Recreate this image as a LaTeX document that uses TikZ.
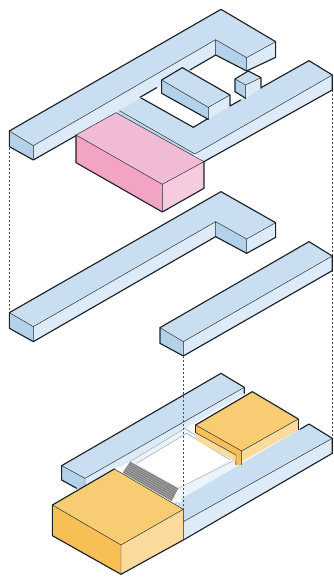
\documentclass[tikz,border=0pt]{standalone}
\usetikzlibrary{calc}
\definecolor{btop}{HTML}{C9DFF1}\definecolor{bleft}{HTML}{B3D1E9}\definecolor{bright}{HTML}{DCEBF7}
\definecolor{ptop}{HTML}{F2BBD5}\definecolor{pleft}{HTML}{F3A3C3}\definecolor{pright}{HTML}{F6CBE0}
\definecolor{gtop}{HTML}{F7CC72}\definecolor{gleft}{HTML}{F8BF57}\definecolor{gright}{HTML}{FBDB9C}
\definecolor{edge}{HTML}{1C2226}
\tikzset{
 zoomed/.style={x=0.3333pt,y=-0.3333pt},
 face/.style={draw=edge,line width=0.45pt,line join=round},
 outline/.style={draw=edge,line width=1.15pt,line join=round,line cap=round},
 guide/.style={draw=black!70,line width=0.45pt,dash pattern=on 2pt off 2pt},
 glass/.style={draw=black!40,line width=0.4pt},
}
\begin{document}
\begin{tikzpicture}[x=1pt,y=-1pt]
\useasboundingbox[fill=white] (0,0) rectangle (334,578);
% guides
\coordinate (gla) at (9.3,148);\coordinate (glb) at (9.3,313);
\coordinate (gra) at (332,90);\coordinate (grb) at (332,436);
\coordinate (gca) at (183.5,356);\coordinate (gcb) at (183.5,509);
\draw[guide] (gla)--(glb);
\draw[guide] (gra)--(grb);
%% TOP
\begin{scope}[zoomed]
 % right wing
 \fill[btop] (355,330)--(420,292)--(580,382)--(785,262)--(927,182)--(997,225)--(585,462)--cycle;
 \fill[bright] (585,462)--(997,225)--(997,270)--(612,485)--cycle;
 \fill[bleft!70!bright] (355,330)--(585,462)--(578,468)--(348,338)--cycle;
 \draw[face] (355,330)--(585,462)--(997,225);
 \draw[outline] (785,262)--(927,182)--(997,225)--(997,270)--(612,485);
 \draw[outline] (420,292)--(580,382)--(625,355);
 \draw[outline] (690,318)--(722,300);
 % far slab
 \fill[btop] (28,393)--(663,28)--(827,125)--(740,173)--(647,119)--(100,437)--cycle;
 \fill[bleft] (28,393)--(100,437)--(100,480)--(28,440)--cycle;
 \fill[bright] (100,437)--(647,119)--(647,165)--(100,480)--cycle;
 \fill[bleft] (647,119)--(740,173)--(740,213)--(647,165)--cycle;
 \fill[bright] (740,173)--(827,125)--(827,172)--(740,213)--cycle;
 \draw[face] (28,393)--(100,437)--(647,119)--(740,173)--(827,125) (100,437)--(100,480) (647,119)--(647,165) (740,173)--(740,213);
 \draw[outline] (28,393)--(663,28)--(827,125)--(827,172)--(740,213)--(647,165)--(570,210);
 \draw[outline] (28,393)--(28,440)--(100,480)--(228,407);
 \draw[outline] (420,292)--(470,263);
 % box
 \fill[btop] (485,240)--(547,203)--(690,285)--(625,322)--cycle;
 \fill[bleft] (485,240)--(625,322)--(625,358)--(485,280)--cycle;
 \fill[bright] (625,322)--(690,285)--(690,318)--(625,358)--cycle;
 \draw[face] (485,240)--(625,322)--(690,285) (625,322)--(625,358);
 \draw[outline] (485,280)--(485,240)--(547,203)--(690,285)--(690,318);
 \draw[outline] (485,280)--(625,358);
 % cube
 \fill[btop] (705,237)--(745,213)--(783,233)--(737,255)--cycle;
 \fill[bleft] (705,237)--(737,255)--(737,295)--(705,275)--cycle;
 \fill[bright] (737,255)--(783,233)--(783,265)--(737,295)--cycle;
 \draw[face] (705,237)--(737,255)--(783,233) (737,255)--(737,295);
 \draw[outline] (737,295)--(705,275)--(705,237)--(745,213)--(783,233)--(783,265);
 % pink
 \fill[ptop] (228,405)--(348,338)--(612,485)--(487,553)--cycle;
 \fill[pleft] (228,405)--(487,553)--(487,636)--(228,488)--cycle;
 \fill[pright] (487,553)--(612,485)--(612,565)--(487,636)--cycle;
 \draw[face] (228,405)--(487,553)--(612,485) (487,553)--(487,636) (228,405)--(348,338)--(612,485);
 \draw[outline] (228,405)--(228,488)--(487,636)--(612,565)--(612,485);
\end{scope}
%% MIDDLE
\begin{scope}[zoomed,yshift=-180pt]
 \fill[btop] (28,398)--(663,35)--(827,128)--(740,177)--(647,125)--(100,440)--cycle;
 \fill[bleft] (28,398)--(100,440)--(100,485)--(28,445)--cycle;
 \fill[bright] (100,440)--(647,125)--(647,170)--(100,485)--cycle;
 \fill[bleft] (647,125)--(740,177)--(740,220)--(647,170)--cycle;
 \fill[bright] (740,177)--(827,128)--(827,172)--(740,220)--cycle;
 \draw[face] (28,398)--(100,440)--(647,125)--(740,177)--(827,128) (100,440)--(100,485) (647,125)--(647,170) (740,177)--(740,220);
 \draw[outline] (100,485)--(28,445)--(28,398)--(663,35)--(827,128)--(827,172)--(740,220)--(647,170)--(100,485);
 \fill[btop] (480,443)--(927,185)--(997,228)--(550,485)--cycle;
 \fill[bleft] (480,443)--(550,485)--(550,528)--(480,490)--cycle;
 \fill[bright] (550,485)--(997,228)--(997,272)--(550,528)--cycle;
 \draw[face] (480,443)--(550,485)--(997,228) (550,485)--(550,528);
 \draw[outline] (480,443)--(927,185)--(997,228)--(997,272)--(550,528)--(480,490)--cycle;
\end{scope}
%% BOTTOM
\begin{scope}[zoomed,xshift=30pt,yshift=-370pt]
 % back bar
 \fill[btop] (95,287)--(573,10)--(643,52)--(165,325)--cycle;
 \fill[bleft] (95,287)--(165,325)--(165,360)--(140,355)--(95,330)--cycle;
 \fill[bright] (165,325)--(643,52)--(643,72)--(465,175)--(300,275)--(255,297)--(165,350)--cycle;
 \draw[face] (95,287)--(165,325)--(643,52) (165,325)--(165,345);
 \draw[outline] (140,355)--(95,330)--(95,287)--(573,10)--(643,52)--(643,70);
 % front bar
 \fill[btop] (430,400)--(630,283)--(837,162)--(907,205)--(460,455)--cycle;
 \fill[bright] (460,455)--(907,205)--(907,250)--(460,505)--cycle;
 \draw[face] (460,455)--(907,205);
 \draw[outline] (810,178)--(837,162)--(907,205)--(907,250)--(460,510);
 % glass roof over the void
 \fill[bright!55!white] (300,275)--(465,175)--(615,270)--(630,283)--(450,388)--(445,355)--cycle;
 \fill[white] (320,280)--(470,190)--(600,270)--(445,355)--cycle;
 \fill[white] (445,355)--(425,393)--(455,397)--cycle;
 % stairs
 \fill[black!50] (300,275)--(445,355)--(425,393)--(278,308)--cycle;
 \foreach \t in {0,...,7} {
  \draw[draw=white!70!black,line width=0.45pt]
   ($(300,275)!\t/7!(278,308)$)--($(445,355)!\t/7!(425,393)$);
 }
 \draw[glass] (300,275)--(465,175)--(615,270)--(445,355);
 \draw[glass] (320,280)--(470,190)--(600,270);
 \draw[glass] (615,270)--(615,285);
 % small gold
 \fill[gtop] (497,165)--(667,65)--(805,147)--(635,243)--cycle;
 \fill[gleft] (497,165)--(635,243)--(635,285)--(618,285)--(618,255)--(497,188)--cycle;
 \fill[gright] (497,188)--(618,255)--(618,275)--(497,210)--cycle;
 \fill[gright] (635,243)--(805,147)--(805,180)--(635,275)--cycle;
 \draw[face] (497,165)--(635,243)--(805,147) (635,243)--(635,285) (497,188)--(618,255)--(618,285);
 \draw[outline] (497,165)--(667,65)--(805,147);
 \draw[face] (497,165)--(497,188) (805,147)--(805,180);
 % large gold
 \fill[gtop] (67,405)--(253,297)--(460,418)--(273,525)--cycle;
 \fill[gleft] (67,405)--(273,525)--(273,613)--(67,497)--cycle;
 \fill[gright] (273,525)--(460,418)--(460,510)--(273,613)--cycle;
 \draw[face] (67,405)--(273,525)--(460,418) (273,525)--(273,613) (253,297)--(460,418)--(460,510);
 \draw[outline] (253,297)--(67,405)--(67,497)--(273,613)--(460,510);
\end{scope}
\draw[guide] (gca)--(gcb);
\end{tikzpicture}
\end{document}
